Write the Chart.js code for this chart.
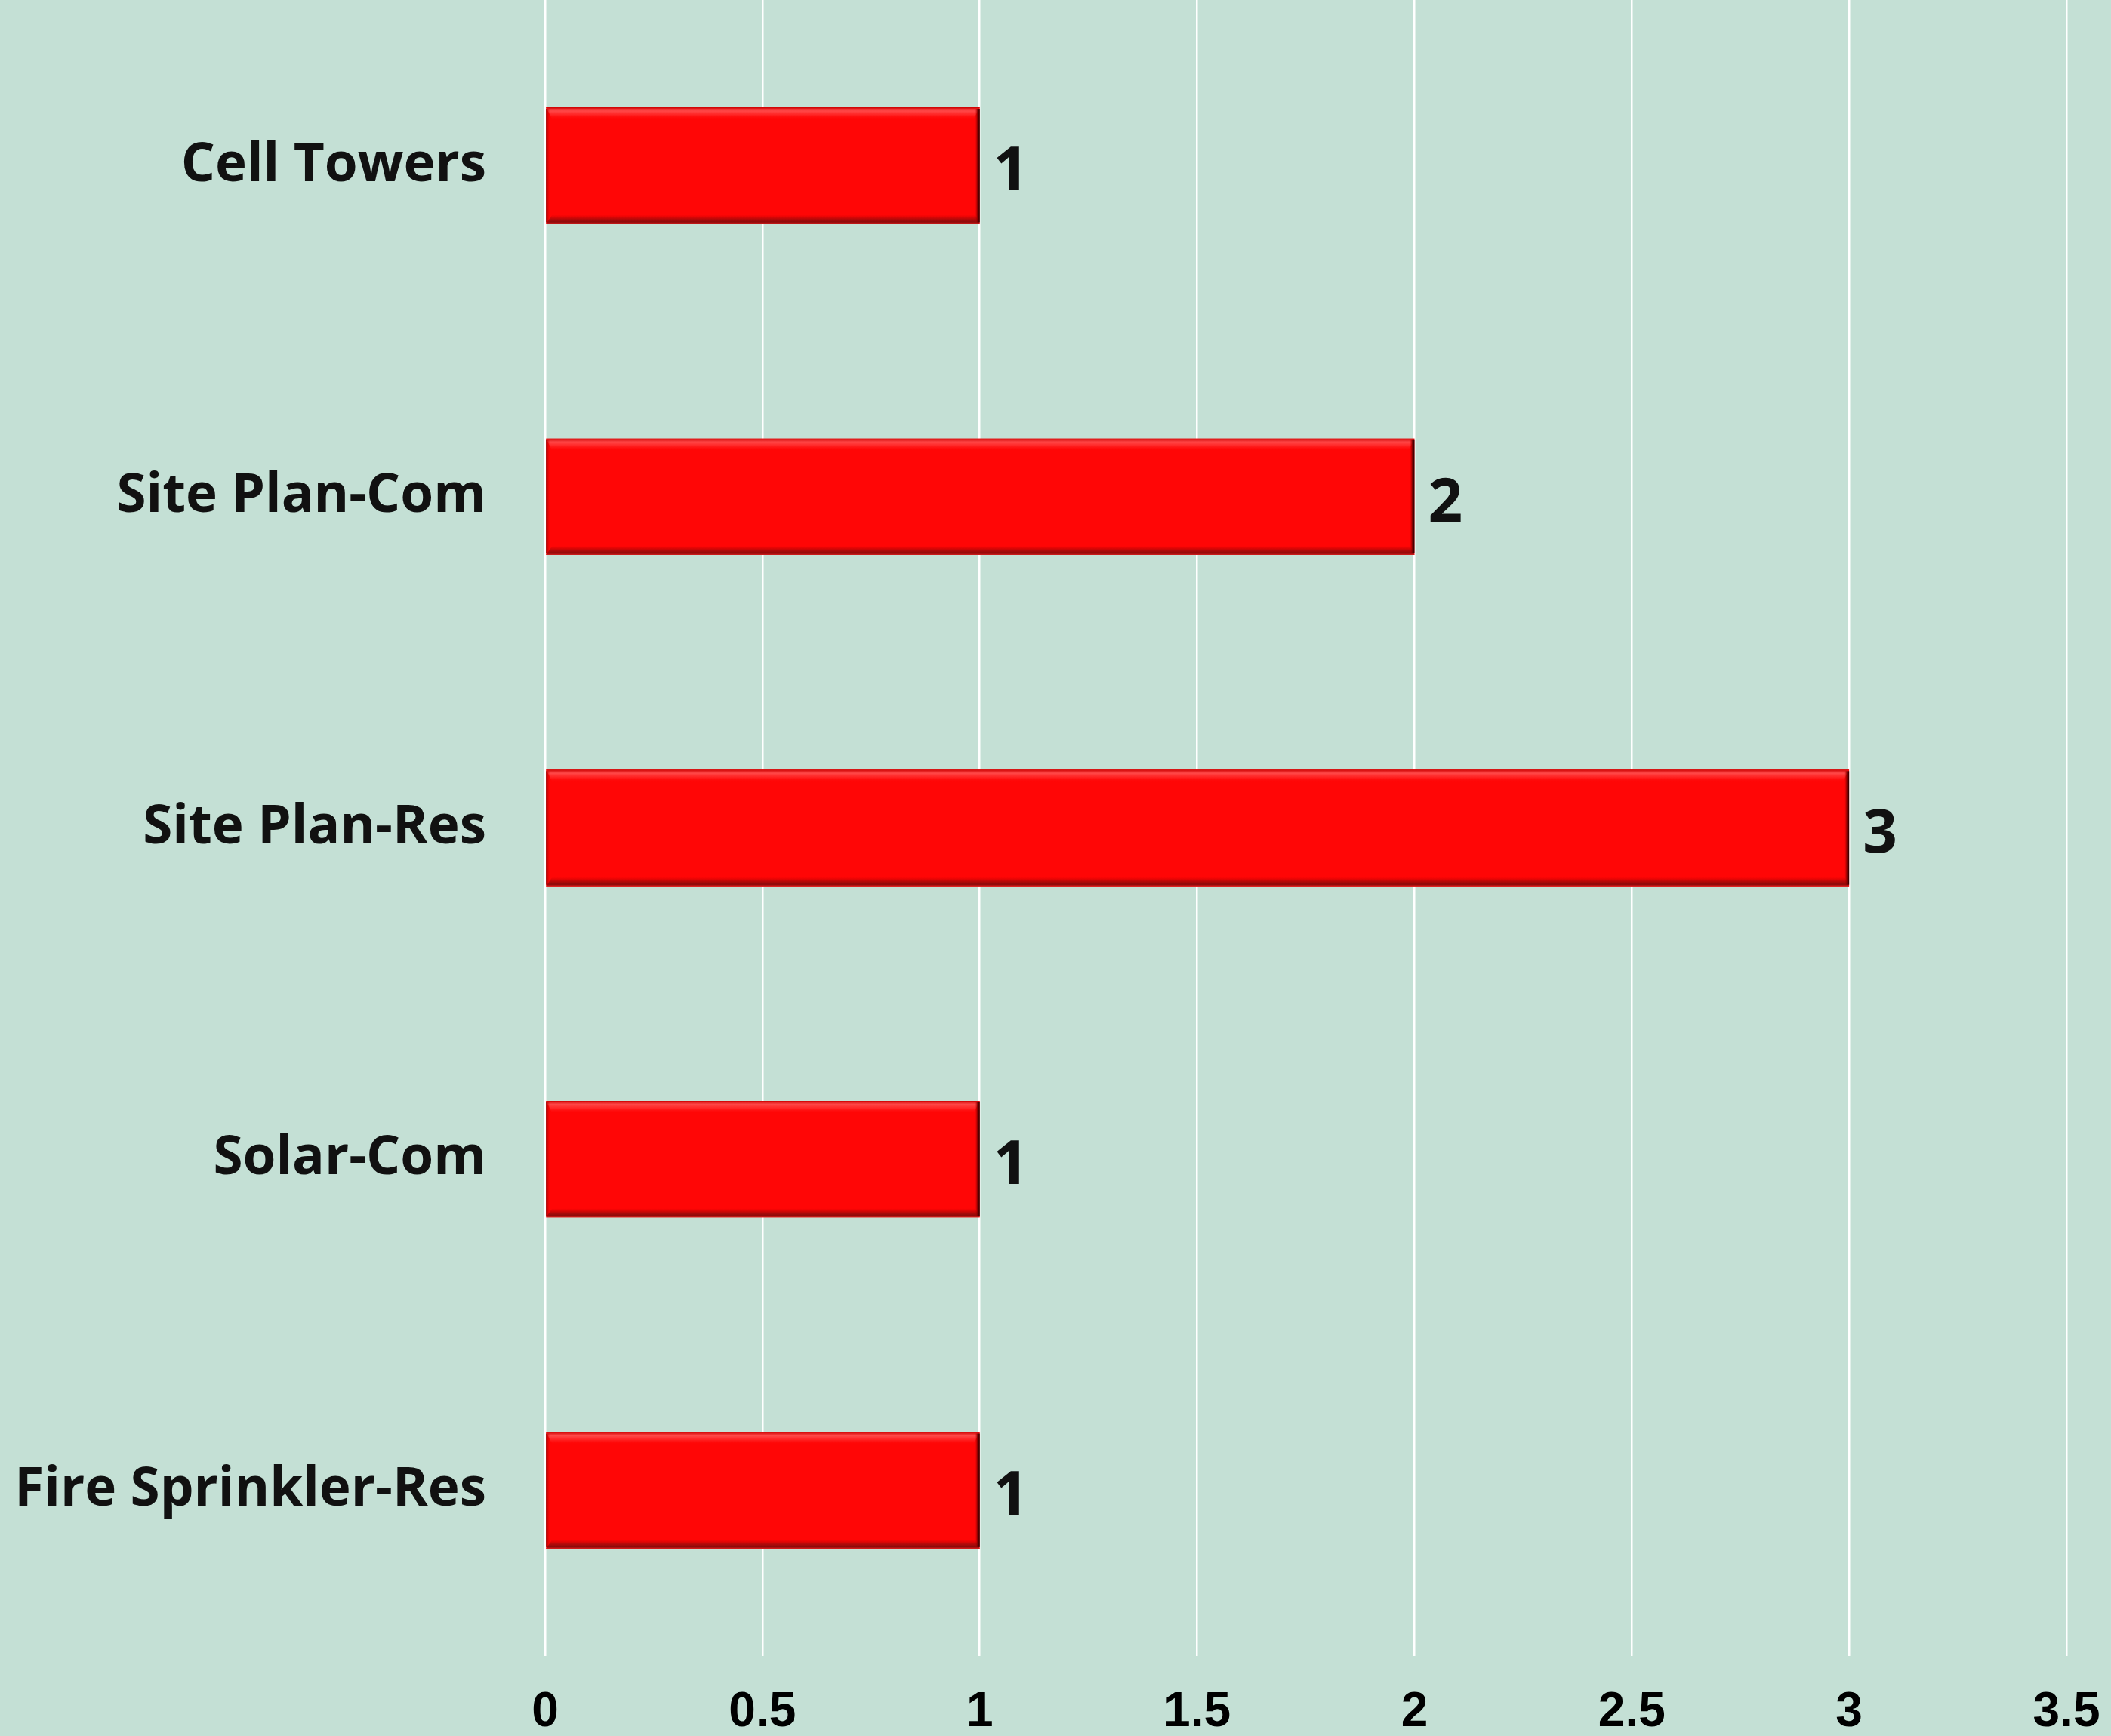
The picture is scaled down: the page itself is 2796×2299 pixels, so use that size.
<!DOCTYPE html>
<html>
<head>
<meta charset="utf-8">
<script src="https://cdn.jsdelivr.net/npm/chart.js@4.4.1/dist/chart.umd.min.js"></script>
<style>
    html, body { margin: 0; padding: 0; background: #c4e0d5; }
    #wrap { width: 2796px; height: 2299px; }
</style>
</head>
<body>
<div id="wrap"><canvas id="myChart" width="2796" height="2299"></canvas></div>
<script>
const categories = ["Cell Towers", "Site Plan-Com", "Site Plan-Res", "Solar-Com", "Fire Sprinkler-Res"];
const counts = [1, 2, 3, 1, 1];
const xTicks = [0, 0.5, 1, 1.5, 2, 2.5, 3, 3.5];

// fake bevel on the bars, like the office 3d bar style
const bevelPlugin = {
    id: "bevel",
    afterDatasetsDraw(chart) {
        const ctx = chart.ctx;
        chart.getDatasetMeta(0).data.forEach(bar => {
            const left = Math.min(bar.base, bar.x);
            const right = Math.max(bar.base, bar.x);
            const top = bar.y - bar.height / 2;
            const bottom = bar.y + bar.height / 2;
            ctx.save();
            // top highlight
            let g = ctx.createLinearGradient(0, top, 0, top + 16);
            g.addColorStop(0, "rgba(200,0,0,0.9)");
            g.addColorStop(0.3, "rgba(255,90,90,0.8)");
            g.addColorStop(0.6, "rgba(255,70,70,0.5)");
            g.addColorStop(1, "rgba(255,10,10,0)");
            ctx.fillStyle = g;
            ctx.beginPath();
            ctx.moveTo(left, top);
            ctx.lineTo(right, top);
            ctx.lineTo(right - 8, top + 16);
            ctx.lineTo(left + 8, top + 16);
            ctx.closePath();
            ctx.fill();
            // bottom shadow
            g = ctx.createLinearGradient(0, bottom - 12, 0, bottom);
            g.addColorStop(0, "rgba(200,0,0,0)");
            g.addColorStop(0.5, "rgba(170,10,10,0.9)");
            g.addColorStop(0.8, "rgba(140,10,10,1)");
            g.addColorStop(1, "rgba(220,30,30,1)");
            ctx.fillStyle = g;
            ctx.beginPath();
            ctx.moveTo(left + 8, bottom - 12);
            ctx.lineTo(right - 6, bottom - 12);
            ctx.lineTo(right, bottom);
            ctx.lineTo(left, bottom);
            ctx.closePath();
            ctx.fill();
            // right edge dark
            g = ctx.createLinearGradient(right - 6, 0, right, 0);
            g.addColorStop(0, "rgba(200,0,0,0)");
            g.addColorStop(0.5, "rgba(120,0,0,0.9)");
            g.addColorStop(1, "rgba(40,0,0,1)");
            ctx.fillStyle = g;
            ctx.fillRect(right - 6, top + 2, 6, bottom - top - 4);
            // left edge
            g = ctx.createLinearGradient(left, 0, left + 5, 0);
            g.addColorStop(0, "rgba(150,0,0,1)");
            g.addColorStop(1, "rgba(220,0,0,0)");
            ctx.fillStyle = g;
            ctx.fillRect(left, top + 2, 5, bottom - top - 4);
            ctx.restore();
        });
    }
};

const valueLabels = {
    id: "valueLabels",
    afterDatasetsDraw(chart) {
        const ctx = chart.ctx;
        ctx.save();
        ctx.font = "bold 80px 'Open Sans'";
        ctx.fillStyle = "#111111";
        ctx.textAlign = "left";
        ctx.textBaseline = "middle";
        chart.getDatasetMeta(0).data.forEach((bar, i) => {
            ctx.fillText(String(counts[i]), bar.x + 18, bar.y + 10);
        });
        ctx.restore();
    }
};

const config = {
    type: "bar",
    data: {
        labels: categories,
        datasets: [{
            data: counts,
            backgroundColor: "rgb(255, 6, 6)",
            borderWidth: 0,
            categoryPercentage: 1,
            barPercentage: 0.352
        }]
    },
    options: {
        indexAxis: "y",
        responsive: false,
        animation: false,
        layout: { padding: { top: 0, right: 59, bottom: 0, left: 0 } },
        plugins: {
            legend: { display: false },
            tooltip: { enabled: false }
        },
        scales: {
            x: {
                min: 0,
                max: 3.5,
                afterBuildTicks: axis => {
                    axis.ticks = xTicks.map(v => ({ value: v }));
                },
                grid: {
                    color: "#ffffff",
                    lineWidth: 2.5,
                    drawTicks: false
                },
                border: { display: false },
                ticks: {
                    padding: 37,
                    color: "#000000",
                    font: { family: "'Liberation Sans', Arial", size: 64, weight: "bold" },
                    maxRotation: 0,
                    callback: v => String(v)
                },
                afterFit: axis => {
                    axis.height = 106;
                    axis.paddingLeft = 0;
                    axis.paddingRight = 0;
                }
            },
            y: {
                grid: { display: false, drawTicks: false },
                border: { display: false },
                ticks: {
                    padding: 78,
                    color: "#111111",
                    font: { family: "'Open Sans'", size: 71, weight: "bold" }
                },
                afterFit: axis => {
                    axis.width = 722;
                    axis.paddingTop = 0;
                    axis.paddingBottom = 0;
                }
            }
        }
    },
    plugins: [bevelPlugin, valueLabels]
};

var myChart = new Chart(document.getElementById("myChart"), config);
</script>
</body>
</html>
